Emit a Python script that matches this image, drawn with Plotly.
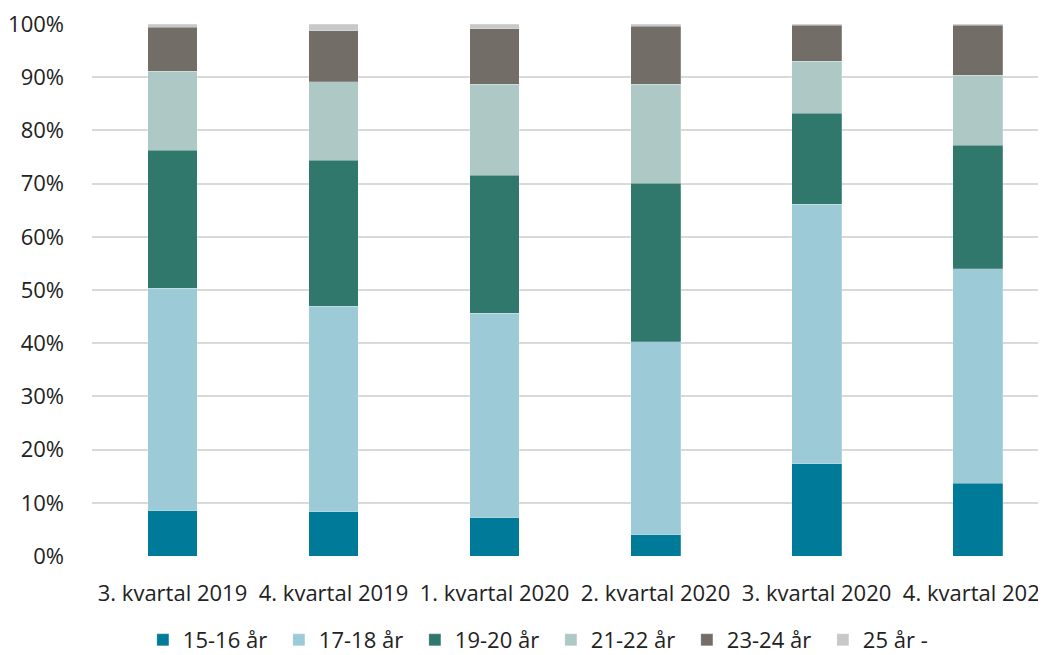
import plotly.graph_objects as go

categories = ["3. kvartal 2019", "4. kvartal 2019", "1. kvartal 2020",
              "2. kvartal 2020", "3. kvartal 2020", "4. kvartal 2020"]

age_15_16 = [8.5, 8.3, 7.2, 4.0, 17.3, 13.7]
age_17_18 = [41.8, 38.6, 38.4, 36.3, 48.8, 40.3]
age_19_20 = [26.0, 27.5, 26.0, 29.8, 17.1, 23.2]
age_21_22 = [14.8, 14.7, 17.1, 18.6, 9.8, 13.2]
age_23_24 = [8.3, 9.6, 10.4, 10.9, 6.8, 9.4]
age_25_plus = [0.6, 1.3, 0.9, 0.4, 0.2, 0.2]

series_names = ["15-16 år", "17-18 år", "19-20 år", "21-22 år", "23-24 år", "25 år -"]
series_values = [age_15_16, age_17_18, age_19_20, age_21_22, age_23_24, age_25_plus]
colors = ["#007A99", "#9CCAD6", "#31786C", "#AEC9C5", "#736D68", "#C8C8C8"]

font_family = "Open Sans, Noto Sans, sans-serif"

fig = go.Figure()
for name, vals, col in zip(series_names, series_values, colors):
    fig.add_trace(go.Bar(
        x=categories, y=[v / 100 for v in vals], name=name,
        marker=dict(color=col, line=dict(color="rgba(255,255,255,0.35)", width=0.6)),
    ))

fig.update_layout(
    barmode="stack",
    bargap=0.69,
    width=1046, height=655,
    margin=dict(l=84, r=8, t=16, b=107, autoexpand=False),
    plot_bgcolor="white", paper_bgcolor="white",
    font=dict(family=font_family, size=22, color="#222222"),
    showlegend=True,
    legend=dict(orientation="h", x=0.481, xanchor="center", y=-0.158, yanchor="middle",
                font=dict(size=22), traceorder="normal", itemwidth=30,
                entrywidth=91, entrywidthmode="pixels"),
    xaxis=dict(range=[-0.5, 5.425], showgrid=False, showline=False, ticks="",
               ticklabelstandoff=22, tickfont=dict(size=22), automargin=False,
               ticklabeloverflow="allow"),
    yaxis=dict(range=[0, 1], tickformat=".0%", dtick=0.1, showgrid=True,
               gridcolor="#D9D9D9", gridwidth=2, zeroline=False, showline=False,
               ticks="", ticklabelstandoff=27, tickfont=dict(size=22), automargin=False,
               ticklabeloverflow="allow"),
)

fig.write_html("out.html")
